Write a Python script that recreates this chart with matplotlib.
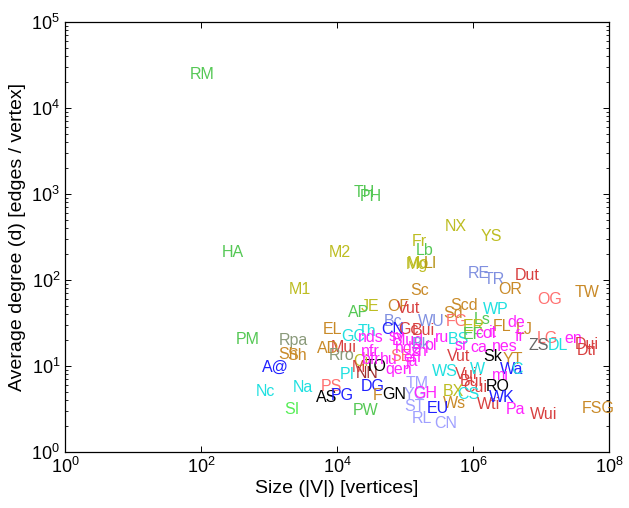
import matplotlib
matplotlib.use("Agg")
import math
import matplotlib.pyplot as plt
from matplotlib.ticker import FixedLocator, NullLocator, LogLocator, FuncFormatter

plt.rcParams['font.family'] = ['Liberation Sans', 'DejaVu Sans']
plt.rcParams['mathtext.fontset'] = 'custom'
plt.rcParams['mathtext.rm'] = 'Liberation Sans'
plt.rcParams['mathtext.default'] = 'regular'

labels = ["RM", "TH", "PH", "HA", "M2", "M1", "NX", "YS", "Fr", "Lb",
          "Mg", "Mo", "LI", "RE", "TR", "Dut", "OR", "OG", "TW", "Sc",
          "JE", "AP", "OF", "Vut", "Scd", "Sd", "FG", "WP", "Ls", "ER",
          "FL", "de", "LJ", "LG", "en", "ZS", "DL", "Dui", "Dti", "Bc",
          "WU", "EL", "GC", "Th", "CN", "nds", "Mui", "AD", "Rro", "Rpa",
          "Sh", "Sh", "PM", "A@", "Nc", "Na", "SI", "PS", "AS", "PG",
          "DG", "F", "GN", "PW", "PI", "NN", "TO", "Ci", "M", "nfr",
          "bfr", "hu", "SE", "hde", "qen", "Blud", "Gc", "Bui", "sv", "en",
          "BS", "EF", "col", "it", "fr", "Vut", "Sk", "YT", "nes", "sr",
          "ca", "WS", "Wa", "C", "mi", "Vui", "Bui", "Cui", "RO", "TM",
          "YG", "GH", "BX", "CS", "Ws", "Wti", "WK", "Pa", "ST", "EU",
          "RL", "CN", "Wui", "FSG", "W", "Bk", "pl", "ja", "ru", "zh"]

sizes = [69, 17800, 21800, 204, 7620, 1970, 387000, 1.31e6, 127000, 145000,
         103000, 107000, 190000, 844000, 1.45e6, 4.15e6, 2.33e6, 8.73e6, 3.16e7, 119000,
         22500, 14500, 54300, 76300, 459000, 362000, 401000, 1.40e6, 1.03e6, 713000,
         1.97e6, 3.16e6, 4.29e6, 8.73e6, 2.18e7, 6.44e6, 1.27e7, 3.16e7, 3.38e7, 49100,
         155000, 6220, 11500, 20400, 44400, 20400, 8160, 5080, 7620, 1400,
         1360, 1840, 327, 789, 644, 2250, 1660, 5820, 4910, 8160,
         22500, 33800, 45900, 17200, 11100, 19000, 25800, 17200, 16600, 22500,
         23300, 42900, 60100, 71300, 50800, 64400, 78900, 127000, 58200, 93500,
         429000, 713000, 1.07e6, 1.72e6, 4.15e6, 415000, 1.40e6, 2.76e6, 1.90e6, 543000,
         904000, 249000, 2.49e6, 3.62e6, 1.90e6, 543000, 644000, 713000, 1.55e6, 103000,
         96600, 131000, 362000, 582000, 362000, 1.15e6, 1.72e6, 3.06e6, 96600, 211000,
         127000, 267000, 6.89e6, 4.01e7, 904000, 127000, 197000, 100000, 276000, 119000]

degrees = [24800, 1045, 938, 209, 209, 77.3, 419, 321, 280, 220,
           151, 155, 155, 119, 101, 112, 77.3, 59.1, 71.3, 75.2,
           49.0, 41.7, 49.0, 46.4, 50.3, 40.6, 32.7, 45.2, 34.5, 28.6,
           28.6, 31.9, 26.4, 20.8, 20.8, 17.2, 17.2, 17.7, 15.0, 32.7,
           32.7, 26.4, 21.9, 25.0, 26.4, 21.3, 16.3, 15.9, 13.1, 19.7,
           13.5, 13.1, 20.2, 9.53, 5.0, 5.57, 3.09, 5.72, 4.26, 4.5,
           5.72, 4.5, 4.62, 3.0, 7.9, 8.11, 9.79, 11.2, 9.53, 14.6,
           11.8, 11.8, 12.8, 15.9, 9.03, 19.7, 26.4, 25.7, 21.9, 12.5,
           20.2, 23.1, 23.7, 24.4, 21.9, 12.8, 12.8, 11.8, 16.7, 17.2,
           16.3, 8.56, 9.03, 9.03, 7.69, 7.9, 6.54, 5.57, 5.72, 6.2,
           4.62, 4.74, 5.0, 4.62, 3.63, 3.53, 4.26, 3.09, 3.35, 3.17,
           2.42, 2.12, 2.7, 3.17, 9.03, 17.7, 17.2, 11.2, 21.3, 14.6]

categories = ["G", "G", "G", "G", "O", "O", "O", "O", "O", "G",
              "O", "O", "LI", "P", "P", "R", "B", "S", "B", "B",
              "O", "G", "B", "R", "B", "B", "S", "C", "G", "O",
              "B", "M", "B", "S", "M", "Gy", "C", "R", "R", "P",
              "P", "B", "C", "C", "Bl", "M", "R", "B", "Gg", "Gg",
              "B", "B", "G", "Bl", "C", "C", "LG", "S", "K", "Bl",
              "Bl", "B", "K", "G", "C", "DR", "K", "O", "R", "M",
              "M", "M", "S", "M", "M", "M", "R", "R", "M", "M",
              "C", "G", "M", "M", "M", "R", "K", "B", "M", "M",
              "M", "C", "Bl", "C", "M", "R", "R", "R", "K", "P2",
              "P2", "M", "O", "C", "B", "R", "Bl", "M", "P2", "Bl",
              "P2", "P2", "R", "B", "C", "P", "M", "M", "M", "M"]

palette = {"G": "#55c855", "O": "#bdbd22", "LI": "#b8951a", "B": "#c98a28",
           "R": "#d84040", "S": "#ff7070", "P": "#8090e0", "P2": "#a0a0ff",
           "C": "#20e0e0", "M": "#ff22ff", "Bl": "#2020ff", "K": "#000000",
           "Gy": "#666666", "Gg": "#8a9a7a", "LG": "#55ee55", "DR": "#a03030"}

fig = plt.figure(figsize=(6.29, 5.08), dpi=100)
ax = fig.add_axes([65 / 629, 1 - 452 / 508, 544 / 629, 430 / 508])
ax.set_xscale('log')
ax.set_yscale('log')
ax.set_xlim(1, 1e8)
ax.set_ylim(1, 1e5)

for lab, sx, dy, cat in zip(labels, sizes, degrees, categories):
    ax.text(sx, dy, lab, color=palette[cat], fontsize=11.5,
            ha='left', va='center')

ax.xaxis.set_major_locator(FixedLocator([1, 1e2, 1e4, 1e6, 1e8]))
ax.xaxis.set_minor_locator(NullLocator())
ax.yaxis.set_major_locator(LogLocator(base=10, numticks=10))
ax.yaxis.set_minor_locator(LogLocator(base=10, subs=range(2, 10), numticks=20))


def fmt(v, pos):
    e = int(round(math.log10(v)))
    return r'$\mathdefault{10^{%d}}$' % e


ax.xaxis.set_major_formatter(FuncFormatter(fmt))
ax.yaxis.set_major_formatter(FuncFormatter(fmt))
ax.tick_params(which='both', direction='in', top=True, right=True, labelsize=13)
ax.tick_params(which='major', length=4, width=0.7)
ax.tick_params(which='minor', length=2.5, width=0.6)
for s in ax.spines.values():
    s.set_linewidth(0.9)

ax.set_xlabel('Size (|V|) [vertices]', fontsize=14, labelpad=2)
ax.set_ylabel('Average degree (d) [edges / vertex]', fontsize=14, labelpad=4)

fig.savefig('out.png', dpi=100)
